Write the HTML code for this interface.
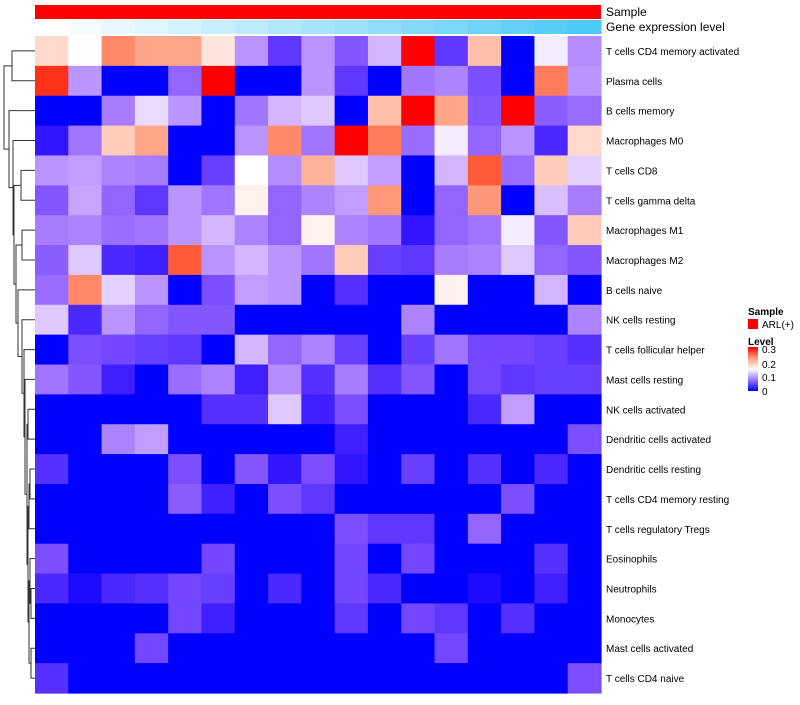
<!DOCTYPE html>
<html><head><meta charset="utf-8"><style>
body{margin:0;background:#fff;font-family:"Liberation Sans",sans-serif;}
svg text{font-family:"Liberation Sans",sans-serif;}
</style></head><body>
<svg id="chart" width="800" height="700" xmlns="http://www.w3.org/2000/svg">
<defs><linearGradient id="lg" x1="0" y1="1" x2="0" y2="0"><stop offset="0" stop-color="#0000ff"/><stop offset="0.25" stop-color="#9a78f8"/><stop offset="0.5" stop-color="#ffffff"/><stop offset="0.75" stop-color="#ff9a80"/><stop offset="1" stop-color="#ff0000"/></linearGradient></defs>
<g id="cells"></g>
<g id="anno"></g>
<g id="labels"></g>
<g id="dendro" stroke="#333" stroke-width="1" fill="none"></g>
<text x="606" y="16" font-size="12">Sample</text>
<text x="606" y="31" font-size="12">Gene expression level</text>
<g>
<text x="748" y="315" font-size="10" font-weight="bold">Sample</text>
<rect x="748" y="319" width="10" height="10" fill="#ff0000"/>
<text x="762" y="328" font-size="10">ARL(+)</text>
<text x="748" y="345" font-size="10" font-weight="bold">Level</text>
<rect x="748" y="347" width="10" height="44" fill="url(#lg)"/>
<text x="762" y="353" font-size="10">0.3</text>
<text x="762" y="368" font-size="10">0.2</text>
<text x="762" y="381" font-size="10">0.1</text>
<text x="762" y="395" font-size="10">0</text>
</g>
</svg>
<script>
const rowNames=["T cells CD4 memory activated","Plasma cells","B cells memory","Macrophages M0","T cells CD8","T cells gamma delta","Macrophages M1","Macrophages M2","B cells naive","NK cells resting","T cells follicular helper","Mast cells resting","NK cells activated","Dendritic cells activated","Dendritic cells resting","T cells CD4 memory resting","T cells regulatory  Tregs","Eosinophils","Neutrophils","Monocytes","Mast cells activated","T cells CD4 naive"];
const r1=[0.18,0.15,0.24,0.22,0.22,0.17,0.09,0.03,0.09,0.05,0.11,0.3,0.03,0.2,0,0.14,0.085];
const r2=[0.29,0.09,0,0,0.06,0.3,0,0,0.09,0.03,0,0.07,0.08,0.045,0,0.25,0.09];
const r3=[0,0,0.075,0.13,0.09,0,0.07,0.11,0.12,0,0.2,0.3,0.22,0.05,0.3,0.055,0.065];
const r4=[0.01,0.07,0.19,0.22,0,0,0.09,0.24,0.07,0.3,0.25,0.065,0.14,0.06,0.09,0.02,0.18];
const r5=[0.09,0.095,0.08,0.075,0,0.035,0.15,0.085,0.21,0.12,0.095,0,0.11,0.27,0.065,0.19,0.125];
const r6=[0.05,0.1,0.06,0.03,0.09,0.07,0.16,0.06,0.08,0.095,0.23,0,0.06,0.23,0,0.115,0.075];
const r7=[0.075,0.08,0.065,0.07,0.09,0.11,0.08,0.06,0.16,0.08,0.07,0.01,0.06,0.07,0.14,0.05,0.19];
const r8=[0.055,0.12,0.02,0.015,0.27,0.09,0.11,0.09,0.07,0.19,0.035,0.03,0.075,0.08,0.12,0.06,0.05];
const r9=[0.065,0.24,0.125,0.09,0,0.045,0.095,0.09,0,0.025,0,0,0.16,0,0,0.11,0];
const r10=[0.12,0.02,0.09,0.06,0.05,0.05,0,0,0,0,0,0.08,0,0,0,0,0.08];
const r11=[0,0.045,0.04,0.035,0.03,0,0.11,0.06,0.08,0.035,0,0.035,0.07,0.04,0.04,0.035,0.025];
const r12=[0.07,0.05,0.015,0,0.065,0.08,0.015,0.085,0.025,0.075,0.025,0.05,0,0.04,0.03,0.035,0.035];
const r13=[0,0,0,0,0,0.025,0.025,0.12,0.015,0.045,0,0,0,0.02,0.095,0,0];
const r14=[0,0,0.08,0.095,0,0,0,0,0,0.015,0,0,0,0,0,0,0.045];
const r15=[0.025,0,0,0,0.045,0,0.05,0.01,0.045,0.01,0,0.035,0,0.025,0,0.02,0];
const r16=[0,0,0,0,0.055,0.015,0,0.045,0.03,0,0,0,0,0,0.045,0,0];
const r17=[0,0,0,0,0,0,0,0,0,0.045,0.03,0.03,0,0.06,0,0,0];
const r18=[0.045,0,0,0,0,0.04,0,0,0,0.04,0,0.04,0,0,0,0.025,0];
const r19=[0.02,0.005,0.02,0.025,0.04,0.035,0,0.02,0,0.04,0.02,0,0,0.005,0,0.015,0];
const r20=[0,0,0,0,0.04,0.015,0,0,0,0.03,0,0.04,0.03,0,0.025,0,0];
const r21=[0,0,0,0.04,0,0,0,0,0,0,0,0,0.04,0,0,0,0];
const r22=[0.025,0,0,0,0,0,0,0,0,0,0,0,0,0,0,0,0.045];
const values=[r1,r2,r3,r4,r5,r6,r7,r8,r9,r10,r11,r12,r13,r14,r15,r16,r17,r18,r19,r20,r21,r22];
const geneLevel=[0,1,2,3,4,5,6,7,8,9,10,11,12,13,14,15,16];

const X0=35,X1=601,Y0=36,Y1=693,NC=17,NR=rowNames.length;
const cw=(X1-X0)/NC, rh=(Y1-Y0)/NR;
const xS=i=>X0+i*cw, yS=j=>Y0+j*rh;
function toLab(c){let [r,g,b]=c.map(v=>{v/=255;return v>0.04045?Math.pow((v+0.055)/1.055,2.4):v/12.92});
let x=(r*0.4124+g*0.3576+b*0.1805)/0.95047,y=r*0.2126+g*0.7152+b*0.0722,z=(r*0.0193+g*0.1192+b*0.9505)/1.08883;
const f=t=>t>0.008856?Math.cbrt(t):7.787*t+16/116;x=f(x);y=f(y);z=f(z);return [116*y-16,500*(x-y),200*(y-z)];}
function fromLab(l){let y=(l[0]+16)/116,x=l[1]/500+y,z=y-l[2]/200;const fi=t=>t*t*t>0.008856?t*t*t:(t-16/116)/7.787;
x=fi(x)*0.95047;y=fi(y);z=fi(z)*1.08883;
let r=x*3.2406+y*-1.5372+z*-0.4986,g=x*-0.9689+y*1.8758+z*0.0415,b=x*0.0557+y*-0.2040+z*1.0570;
return [r,g,b].map(v=>{v=v>0.0031308?1.055*Math.pow(v,1/2.4)-0.055:12.92*v;return Math.round(Math.max(0,Math.min(1,v))*255)});}
const LB=toLab([0,0,255]),LW=toLab([255,255,255]),LR=toLab([255,0,0]);
function col(v){let t=Math.max(0,Math.min(0.3,v))/0.3,a,b,u;if(t<0.5){a=LB;b=LW;u=Math.pow(t*2,1.2)}else{a=LW;b=LR;u=(t-0.5)*2}
const c=fromLab(a.map((q,i)=>q+(b[i]-q)*u));return `rgb(${c[0]},${c[1]},${c[2]})`;}
const NS="http://www.w3.org/2000/svg";
const cells=document.getElementById('cells');
values.forEach((row,j)=>row.forEach((v,i)=>{
 const r=document.createElementNS(NS,'rect');
 r.setAttribute('x',xS(i));r.setAttribute('y',yS(j));r.setAttribute('width',cw+0.6);r.setAttribute('height',rh+0.6);
 r.setAttribute('fill',col(v));
 
 
 cells.appendChild(r);
}));
const anno=document.getElementById('anno');
const s=document.createElementNS(NS,'rect');
s.setAttribute('x',X0);s.setAttribute('y',5);s.setAttribute('width',X1-X0);s.setAttribute('height',14);s.setAttribute('fill','#ff0000');


anno.appendChild(s);
const maxG=Math.max(...geneLevel);
geneLevel.forEach((g,i)=>{
 const t=g/maxG;const r=Math.round(255+(76-255)*t),gg=Math.round(255+(201-255)*t),b=Math.round(255+(245-255)*t);
 const e=document.createElementNS(NS,'rect');
 e.setAttribute('x',xS(i));e.setAttribute('y',20);e.setAttribute('width',cw+0.6);e.setAttribute('height',14);
 e.setAttribute('fill',`rgb(${r},${gg},${b})`);
 
 
 anno.appendChild(e);
});
const labels=document.getElementById('labels');
rowNames.forEach((n,j)=>{
 const t=document.createElementNS(NS,'text');
 t.setAttribute('x',606);t.setAttribute('y',yS(j)+rh/2+4);t.setAttribute('font-size','10');t.textContent=n;
 
 
 labels.appendChild(t);
});
const cy=j=>yS(j)+rh/2;
const dend=document.getElementById('dendro');
function node(a,b,x){return {y:(a.y+b.y)/2,x:x,a:a,b:b};}
function leaf(j){return {y:cy(j),x:35,leaf:true};}
const L=[...Array(NR).keys()].map(leaf);
const c12=node(L[0],L[1],12);
const c56=node(L[4],L[5],21);
const c78=node(L[6],L[7],22);
const c1314=node(L[12],L[13],28),c1516=node(L[14],L[15],30),c1920=node(L[18],L[19],31),c2122=node(L[20],L[21],31);
const cA=node(c1516,L[16],29),cB=node(L[17],c1920,30),cC=node(cB,c2122,29);
const cD=node(cA,cC,28),cE=node(c1314,cD,27),cF=node(L[11],cE,25),cG=node(L[10],cF,24);
const cH=node(L[9],cG,22),cI=node(L[8],cH,18),cJ=node(c78,cI,16);
const cK=node(c56,cJ,14),cL=node(L[3],cK,13),cM=node(L[2],cL,9),root=node(c12,cM,4);
function draw(n){if(n.leaf)return;
 const p=document.createElementNS(NS,'path');
 p.setAttribute('d',`M${n.a.x},${n.a.y}H${n.x}V${n.b.y}H${n.b.x}`);
 
 
 dend.appendChild(p);draw(n.a);draw(n.b);}
draw(root);
</script>
</body></html>
